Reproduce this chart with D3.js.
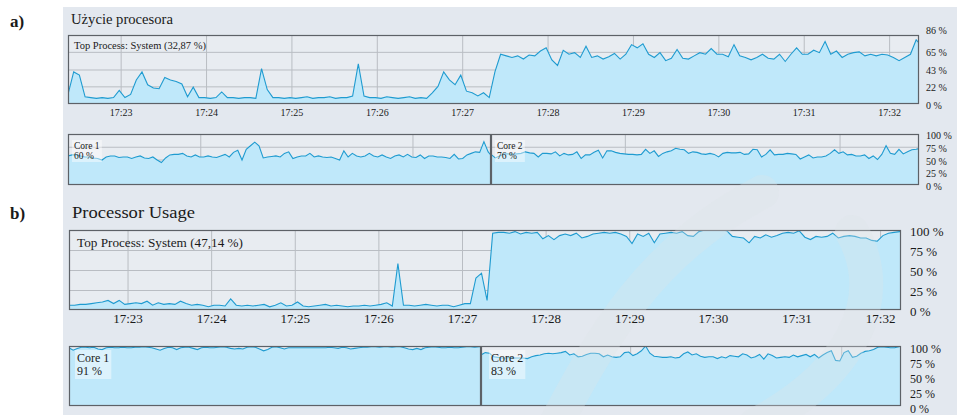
<!DOCTYPE html>
<html><head><meta charset="utf-8">
<script src="https://cdn.jsdelivr.net/npm/d3@7/dist/d3.min.js"></script>
<style>
body{margin:0;background:#fff;}
svg{display:block;}
text{font-family:"Liberation Serif","DejaVu Serif","Times New Roman",serif;}
</style>
</head><body>
<svg id="c" width="957" height="415"></svg>
<script>
// ---------------- DATA ----------------
// Panel a) Polish UI, main CPU usage (% , one sample every 4 s)
const aMainValues = [12,40,36,9,8,7,8,7,8,17, 8,12,30,40,24,20,19,33,30,28, 25,9,21,8,8,7,8,15,8,8,
  7,8,8,7,44,18,8,8,7,8, 7,8,9,7,8,8,9,7,8,8, 10,50,10,8,8,7,9,8,7,8, 9,7,8,7,14,22,40,30,24,36,
  16,14,10,14,8,40,62,60,58,60, 56,61,60,66,70,55,48,67,62,64, 58,72,58,60,56,59,63,56,62,74,
  70,75,62,58,64,54,57,68,57,56, 60,64,62,69,62,62,59,74,60,58, 55,58,62,57,56,62,53,62,70,62,
  62,67,64,78,62,66,58,62,64,65, 60,62,60,62,61,58,54,58,62,80, 72];
// per-core (one sample every 6 s)
const aCore1Values = [57,59,59,57,55,55,53,52,49,55, 57,57,54,55,55,52,55,57,53,52, 55,49,44,53,59,60,60,62,57,55,
  59,55,55,57,55,54,57,60,55,64, 68,49,70,77,84,77,53,55,56,57, 55,62,65,52,55,57,57,62,55,57,
  55,54,55,52,49,67,55,62,57,55, 57,62,57,55,59,55,52,57,59,55, 60,55,54,59,52,57,57,55,55,54,
  52,60,51,52,59,62,65,64,85,65, 55];
const aCore2Values = [60,53,57,61,61,60,61,62,65,63, 62,55,62,62,61,65,57,62,59,60, 65,52,59,59,64,68,53,67,67,64,
  62,61,60,60,59,60,70,62,67,56, 62,65,67,72,70,69,62,65,64,61, 60,62,60,55,62,64,63,63,64,60,
  61,70,69,55,60,69,59,60,60,62, 61,60,51,55,59,53,55,55,57,62, 69,62,65,59,60,57,57,59,52,57,
  50,60,77,62,60,70,61,65,69,70, 72];
// Panel b) English UI
const bMainValues = [6,6,7,7,8,9,10,12,8,12, 7,8,9,8,11,6,9,7,8,7, 11,8,6,7,6,4,6,6,5,14,
  6,5,6,5,6,7,4,6,9,5, 6,10,5,4,5,6,7,5,6,5, 4,5,5,6,5,6,7,9,5,58, 6,6,5,6,7,6,5,6,6,4,
  6,8,8,40,46,12,96,97,97,96, 98,95,97,96,97,89,93,88,93,95, 93,96,90,92,95,96,97,96,97,95,
  92,83,95,92,96,84,95,96,97,96, 98,93,92,98,100,100,100,100,99,92, 91,90,84,92,90,94,91,93,96,97,
  96,99,91,88,92,91,92,96,90,92, 93,92,90,90,87,86,93,96,97,98, 97];
const bCore1Values = [97,93,96,98,98,97,98,95,94,97, 98,97,97,98,97,97,98,98,99,98, 97,95,93,96,98,97,94,97,98,98,
  96,94,97,98,97,97,98,99,98,96, 95,96,95,98,99,98,95,92,94,98, 99,97,95,97,97,97,97,97,97,97,
  97,97,97,98,97,96,98,97,95,96, 97,98,98,99,99,98,99,99,98,99, 99,97,95,94,96,94,97,98,99,98,
  97,97,98,97,97,98,99,99,98,99, 99];
const bCore2Values = [85,89,88,82,81,80,80,81,80,80, 80,79,82,84,85,87,88,87,88,89, 91,85,87,82,83,86,88,88,87,82,
  85,82,81,82,89,90,84,87,92,100, 88,83,82,81,81,82,80,81,87,90, 85,87,83,81,82,82,79,82,80,84,
  83,82,87,85,80,82,86,78,87,84, 80,81,82,81,85,82,84,86,82,86, 80,85,89,92,76,75,89,92,81,83,
  88,91,92,94,98,99,98,97,97,99, 100];

const aYTicks = [0,22,43,65,86];
const bYTicks = [0,25,50,75,100];
const coreYTicks = [0,25,50,75,100];
const minuteTicks = ["17:23","17:24","17:25","17:26","17:27","17:28","17:29","17:30","17:31","17:32"];
const aCoreGrid = ["17:25:30","17:30:30"];
const bCoreGrid = ["17:25:50","17:30:50"];
const aRange = ["17:22:23","17:32:21"];
const bRange = ["17:22:18","17:32:15"];
const aLabels = {title:"Użycie procesora", top:"Top Process: System (32,87 %)", core1:["Core 1","60 %"], core2:["Core 2","76 %"]};
const bLabels = {title:"Processor Usage", top:"Top Process: System (47,14 %)", core1:["Core 1","91 %"], core2:["Core 2","83 %"]};

// ---------------- HELPERS ----------------
const T = s => { const p = s.split(":").map(Number); return new Date(2020,0,1,p[0],p[1],p[2]||0); };
const series = (start, step, vals) => vals.map((v,i)=>({t:new Date(start.getTime()+i*step*1000), v}));
const FONT = '"Liberation Serif","DejaVu Serif",serif';

const C = {bg:"#e3e8ef", plot:"#e8ecf1", grid:"#b9bdc3", fill:"#bfe8fa", line:"#1f9bd0", border:"#5d6167", text:"#1a1a1a"};
const svg = d3.select("#c");
svg.append("rect").attr("x",63).attr("y",7).attr("width",894).attr("height",408).attr("fill",C.bg);
const plotLayer = svg.append("g");
const wmLayer = svg.append("g");
const textLayer = svg.append("g");

let clipN = 0;
function plot(o){
  const x = d3.scaleTime().domain(o.domain).range(o.xr);
  const y = d3.scaleLinear().domain([0,o.yMax]).range([o.yr[1],o.yr[0]]);
  const id = "clip"+(clipN++);
  svg.append("clipPath").attr("id",id).append("rect")
    .attr("x",o.xr[0]).attr("y",o.yr[0]).attr("width",o.xr[1]-o.xr[0]).attr("height",o.yr[1]-o.yr[0]);
  const g = plotLayer.append("g");
  g.append("rect").attr("x",o.xr[0]).attr("y",o.yr[0]).attr("width",o.xr[1]-o.xr[0]).attr("height",o.yr[1]-o.yr[0]).attr("fill",C.plot);
  const gg = g.append("g").attr("clip-path",`url(#${id})`);
  gg.append("g").attr("transform",`translate(0,${o.yr[1]})`)
    .call(d3.axisBottom(x).tickValues(o.gridX).tickSize(-(o.yr[1]-o.yr[0])).tickFormat(""))
    .call(s=>{s.select(".domain").remove(); s.selectAll("line").attr("stroke",C.grid);});
  gg.append("g").attr("transform",`translate(${o.xr[0]},0)`)
    .call(d3.axisLeft(y).tickValues(o.gridY).tickSize(-(o.xr[1]-o.xr[0])).tickFormat(""))
    .call(s=>{s.select(".domain").remove(); s.selectAll("line").attr("stroke",C.grid);});
  const data = series(o.domain[0], o.step, o.values);
  gg.append("path").datum(data).attr("fill",C.fill)
    .attr("d", d3.area().x(d=>x(d.t)).y0(y(0)).y1(d=>y(d.v)));
  gg.append("path").datum(data).attr("fill","none").attr("stroke",C.line).attr("stroke-width",1.1)
    .attr("d", d3.line().x(d=>x(d.t)).y(d=>y(d.v)));
  g.append("rect").attr("x",o.xr[0]+0.5).attr("y",o.yr[0]+0.5).attr("width",o.xr[1]-o.xr[0]-1).attr("height",o.yr[1]-o.yr[0]-1)
    .attr("fill","none").attr("stroke",C.border).attr("stroke-width",1.2);
  return {x,y};
}
function yAxis(sc, xPos, ticks, fs, dy){
  const ax = textLayer.append("g").attr("transform",`translate(${xPos},0)`)
    .call(d3.axisRight(sc).tickValues(ticks).tickSize(0).tickPadding(0).tickFormat(d=>d+" %"));
  ax.select(".domain").remove();
  ax.attr("font-family",FONT);
  ax.selectAll("text").attr("font-family",FONT).attr("font-size",fs).attr("fill",C.text).attr("dy",dy);
  return ax;
}
function xAxis(sc, yPos, fs, pad){
  const ax = textLayer.append("g").attr("transform",`translate(0,${yPos})`)
    .call(d3.axisBottom(sc).tickValues(minuteTicks.map(T)).tickSize(0).tickPadding(pad).tickFormat(d3.timeFormat("%H:%M")));
  ax.select(".domain").remove();
  ax.attr("font-family",FONT);
  ax.selectAll("text").attr("font-family",FONT).attr("font-size",fs).attr("fill",C.text);
}
function coreLabel(x, y1, y2, lines, fs){
  const g = textLayer.append("g");
  const bg = g.append("rect");
  g.append("text").attr("x",x).attr("y",y1).attr("font-size",fs).attr("fill",C.text).text(lines[0]);
  g.append("text").attr("x",x).attr("y",y2).attr("font-size",fs).attr("fill",C.text).text(lines[1]);
  const b = g.node().getBBox();
  bg.attr("x",b.x-2).attr("y",b.y-1).attr("width",b.width+4).attr("height",b.height+2).attr("fill","#ffffff").attr("opacity",0.45);
}
function text(x,y,s,fs,opt={}){
  const t = textLayer.append("text").attr("x",x).attr("y",y).attr("font-size",fs).attr("fill",C.text).text(s);
  if(opt.bold) t.attr("font-weight","bold");
  if(opt.len) t.attr("textLength",opt.len).attr("lengthAdjust","spacingAndGlyphs");
  return t;
}

// ---------------- PANEL a ----------------
const aDom = aRange.map(T);
const aM = plot({xr:[68,919], yr:[35,104], domain:aDom, yMax:86, gridY:[22,43,65], gridX:minuteTicks.map(T), values:aMainValues, step:4});
const aC1 = plot({xr:[68,491], yr:[134,185], domain:aDom, yMax:100, gridY:[25,50,75], gridX:aCoreGrid.map(T), values:aCore1Values, step:6});
const aC2 = plot({xr:[491,919], yr:[134,185], domain:aDom, yMax:100, gridY:[25,50,75], gridX:aCoreGrid.map(T), values:aCore2Values, step:6});
const aYa = yAxis(aM.y, 926, aYTicks, 10, "0.4em");
aYa.selectAll("text").filter(d=>d===86).attr("dy","-0.2em");
yAxis(aC1.y, 926, coreYTicks, 10, "0.45em");
xAxis(aM.x, 104, 10, 5);
text(10,27,"a)",17,{bold:true});
text(71,24,aLabels.title,14,{len:102});
text(74,49,aLabels.top,9.5,{len:132});
coreLabel(74,149,159,aLabels.core1,9.5);
coreLabel(497,149,159,aLabels.core2,9.5);

// ---------------- PANEL b ----------------
const bDom = bRange.map(T);
const bM = plot({xr:[69,901], yr:[230,310], domain:bDom, yMax:100, gridY:[25,50,75], gridX:minuteTicks.map(T), values:bMainValues, step:4});
const bC1 = plot({xr:[69,481], yr:[346,406], domain:bDom, yMax:100, gridY:[25,50,75], gridX:bCoreGrid.map(T), values:bCore1Values, step:6});
const bC2 = plot({xr:[481,901], yr:[346,406], domain:bDom, yMax:100, gridY:[25,50,75], gridX:bCoreGrid.map(T), values:bCore2Values, step:6});
yAxis(bM.y, 910, bYTicks, 13, "0.45em");
yAxis(bC1.y, 910, coreYTicks, 12, "0.5em");
xAxis(bM.x, 310, 13, 4);
text(10,219,"b)",17,{bold:true});
text(72,218,bLabels.title,17,{len:123});
text(77,247,bLabels.top,12,{len:166});
coreLabel(77,362,375,bLabels.core1,12);
coreLabel(491,362,375,bLabels.core2,12);

// ---------------- faint watermark (source-image artefact) ----------------
const wm = [["M 555 425 C 600 340, 650 250, 762 192"],["M 755 425 C 850 375, 890 300, 852 232"]];
wmLayer.selectAll("path").data(wm).join("path").attr("d",d=>d[0])
  .attr("fill","none").attr("stroke","#dfe3e8").attr("stroke-opacity",0.3).attr("stroke-width",34).attr("stroke-linecap","round");
</script>
</body></html>
